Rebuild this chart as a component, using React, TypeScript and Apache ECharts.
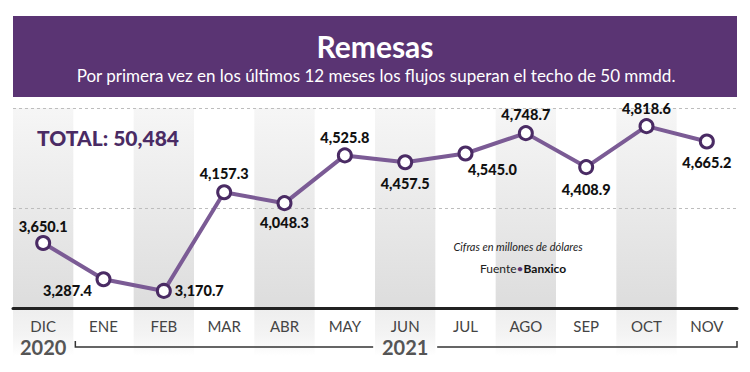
import React, { useEffect, useRef } from "react";
import * as echarts from "echarts";

const months = ["DIC", "ENE", "FEB", "MAR", "ABR", "MAY", "JUN", "JUL", "AGO", "SEP", "OCT", "NOV"];
const remesas = [3650.1, 3287.4, 3170.7, 4157.3, 4048.3, 4525.8, 4457.5, 4545.0, 4748.7, 4408.9, 4818.6, 4665.2];
const yearLabels = ["2020", "2021"];
const yTicks = { min: 3000, max: 5000, interval: 1000 };

const title = "Remesas";
const subtitle = "Por primera vez en los últimos 12 meses los flujos superan el techo de 50 mmdd.";
const totalText = "TOTAL: 50,484";
const noteText = "Cifras en millones de dólares";

// label placement style per point
const labelPlace: any[] = [
  { position: "top", distance: 1 },
  { position: "bottom", distance: 0, offset: [-36, -4] },
  { position: "right", distance: 3 },
  { position: "top", distance: 3 },
  { position: "bottom", distance: 4 },
  { position: "top", distance: 2 },
  { position: "bottom", distance: 6 },
  { position: "bottom", distance: 0, offset: [27, 0] },
  { position: "top", distance: 3 },
  { position: "bottom", distance: 7 },
  { position: "top", distance: 2 },
  { position: "bottom", distance: 6 },
];

const W = 750;
const H = 372;
const GL = 13;
const GR = 13;
const GT = 108;
const GB = 64;
const PURPLE = "#5a3473";
const DARK = "#4a2b64";
const LINE = "#7b5b95";
const FONT = "Lato, 'Open Sans', sans-serif";

export default function App() {
  const ref = useRef<HTMLDivElement>(null);
  useEffect(() => {
    if (!ref.current) return;
    const chart = echarts.init(ref.current, null, { renderer: "svg" });
    const gridW = W - GL - GR;
    const colW = gridW / months.length;
    const axisY = H - GB;

    const cols: any[] = [];
    months.forEach((_, i) => {
      if (i % 2 === 0) {
        cols.push({
          type: "rect",
          z: -1,
          shape: { x: GL + i * colW, y: GT, width: colW, height: 248 },
          style: {
            fill: new echarts.graphic.LinearGradient(0, 0, 0, 1, [
              { offset: 0, color: "#f6f6f6" },
              { offset: 0.45, color: "#e8e8e8" },
              { offset: 0.8, color: "#dddddd" },
              { offset: 0.81, color: "#eeeeee" },
              { offset: 0.92, color: "#f4f4f4" },
              { offset: 1, color: "#ffffff" },
            ]),
          },
          silent: true,
        });
      }
    });

    const colCenter = (i: number) => GL + (i + 0.5) * colW;

    chart.setOption({
      animation: false,
      backgroundColor: "#ffffff",
      grid: { left: GL, right: GR, top: GT, bottom: GB, containLabel: false },
      xAxis: {
        type: "category",
        data: months,
        boundaryGap: true,
        axisLine: { show: true, lineStyle: { color: "#222", width: 3 } },
        axisTick: { show: false },
        axisLabel: { color: "#444", fontSize: 15, fontFamily: FONT, margin: 10 },
        splitLine: { show: false },
        z: 5,
      },
      yAxis: {
        type: "value",
        min: yTicks.min,
        max: yTicks.max,
        interval: yTicks.interval,
        axisLine: { show: false },
        axisTick: { show: false },
        axisLabel: { show: false },
        splitLine: { show: true, lineStyle: { color: "#bdbdbd", type: [3, 3], width: 1 } },
      },
      series: [
        {
          type: "line",
          data: remesas.map((v, i) => ({
            value: v,
            label: { show: true, ...labelPlace[i] },
          })),
          symbol: "circle",
          symbolSize: 13,
          showAllSymbol: true,
          lineStyle: { color: LINE, width: 4 },
          itemStyle: { color: "#ffffff", borderColor: DARK, borderWidth: 3 },
          label: {
            show: true,
            color: "#111",
            fontSize: 14.5,
            fontWeight: 900,
            fontFamily: FONT,
            formatter: (p: any) =>
              p.value.toLocaleString("en-US", { minimumFractionDigits: 1, maximumFractionDigits: 1 }),
          },
          z: 3,
        },
      ],
      graphic: [
        ...cols,
        {
          type: "rect",
          shape: { x: 13, y: 16, width: 724, height: 81 },
          style: { fill: PURPLE },
          silent: true,
        },
        {
          type: "text",
          x: W / 2,
          y: 46,
          style: {
            text: title,
            fill: "#ffffff",
            font: `bold 30px ${FONT}`,
            textAlign: "center",
            textVerticalAlign: "middle",
          },
        },
        {
          type: "text",
          x: W / 2 + 1,
          y: 75,
          style: {
            text: subtitle,
            fill: "#ffffff",
            font: `17px ${FONT}`,
            textAlign: "center",
            textVerticalAlign: "middle",
          },
        },
        {
          type: "text",
          x: 37,
          y: 137,
          style: {
            text: totalText,
            fill: DARK,
            font: `900 21px ${FONT}`,
            textAlign: "left",
            textVerticalAlign: "middle",
          },
        },
        {
          type: "text",
          x: 518,
          y: 246,
          style: {
            text: noteText,
            fill: "#222",
            font: `italic 11px ${FONT}`,
            textAlign: "center",
            textVerticalAlign: "middle",
          },
        },
        {
          type: "text",
          x: 523,
          y: 268,
          style: {
            text: "{a|Fuente}{b|•}{c|Banxico}",
            textAlign: "center",
            textVerticalAlign: "middle",
            rich: {
              a: { fontSize: 12, fontFamily: FONT, fill: "#222" },
              b: { fontSize: 12, fontFamily: FONT, fill: PURPLE },
              c: { fontSize: 12, fontFamily: FONT, fontWeight: "bold", fill: "#111" },
            },
          },
        },
        {
          type: "text",
          x: colCenter(0),
          y: 347,
          style: {
            text: yearLabels[0],
            fill: "#555",
            font: `bold 20px ${FONT}`,
            textAlign: "center",
            textVerticalAlign: "middle",
          },
        },
        {
          type: "text",
          x: colCenter(6),
          y: 347,
          style: {
            text: yearLabels[1],
            fill: "#555",
            font: `bold 20px ${FONT}`,
            textAlign: "center",
            textVerticalAlign: "middle",
          },
        },
        {
          type: "polyline",
          shape: { points: [[GL + colW + 2, axisY + 33], [GL + colW + 2, axisY + 39], [colCenter(6) - 32, axisY + 39]] },
          style: { stroke: "#333", lineWidth: 1.5, fill: null },
        },
        {
          type: "polyline",
          shape: { points: [[colCenter(6) + 32, axisY + 39], [W - GR, axisY + 39], [W - GR, axisY + 33]] },
          style: { stroke: "#333", lineWidth: 1.5, fill: null },
        },
      ],
    });
    return () => chart.dispose();
  }, []);
  return (
    <div
      ref={ref}
      style={{ position: "fixed", left: 0, top: 0, width: W, height: H, background: "#fff" }}
    />
  );
}
